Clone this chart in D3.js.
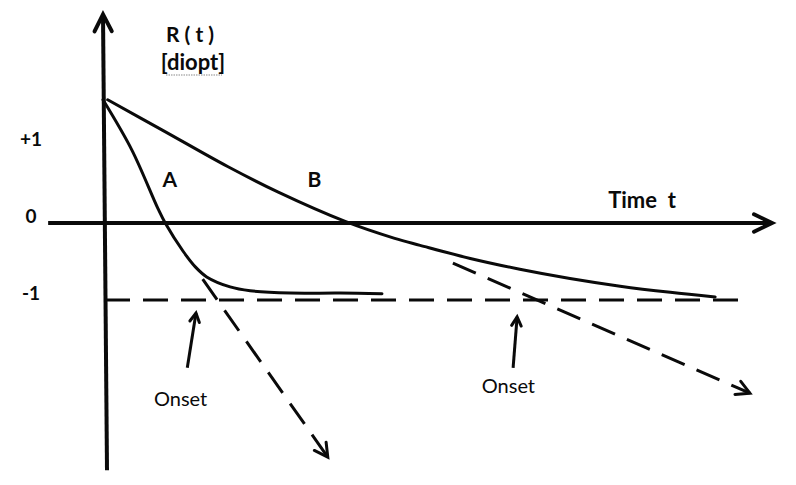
<!DOCTYPE html>
<html>
<head>
<meta charset="utf-8">
<script src="https://cdn.jsdelivr.net/npm/d3@7"></script>
<style>
    body { margin: 0; background: #fff; }
    svg { display: block; }
</style>
</head>
<body>
<div id="chart"></div>
<script>
/////////////////////////////////////////
//////////////// DATA ///////////////////
/////////////////////////////////////////

//time t (arbitrary units) and R(t) in diopt
const curveA = [
    [0.00, 1.60], [0.43, 0.95], [0.82, 0.19], [0.93, 0.00], [1.20, -0.37],
    [1.38, -0.57], [1.55, -0.70], [1.90, -0.83], [2.20, -0.88], [2.80, -0.91],
    [3.54, -0.91], [4.17, -0.92]
];
const curveB = [
    [0.07, 1.60], [0.88, 1.21], [1.87, 0.73], [2.62, 0.40], [3.62, 0.02],
    [4.36, -0.20], [4.74, -0.29], [5.49, -0.46], [6.23, -0.60], [6.98, -0.72],
    [7.73, -0.82], [8.48, -0.90], [9.15, -0.96]
];

//dashed lines: the -1 level and the two extrapolated tangents
const levelLine = [[0.03, -1], [9.63, -1]];
const tangentA = [[1.49, -0.73], [3.36, -3.04]];
const tangentB = [[5.23, -0.52], [9.67, -2.21]];

//onset arrows [from, to]
const onsetArrows = [
    [[1.26, -1.88], [1.39, -1.17]],
    [[6.13, -1.88], [6.19, -1.22]]
];
const onsetLabels = [[1.16, -2.28], [6.06, -2.12]];

const tickValues = [1, 0, -1];
const tickLabels = ["+1", "0", "-1"];

const curveNames = ["A", "B"];
const curveNamePos = [[1.00, 0.56], [3.16, 0.56]];

/////////////////////////////////////////
//////////// SIZES & SCALES /////////////
/////////////////////////////////////////

const WIDTH = 796;
const HEIGHT = 485;
const INK = "#0a0a0a";
const FONT = "Lato, 'Open Sans', sans-serif";

const x = d3.scaleLinear().domain([0, 10]).range([103, 772]);
const y = d3.scaleLinear().domain([-1, 0]).range([300, 223]);

const svg = d3.select("#chart").append("svg")
    .attr("width", WIDTH)
    .attr("height", HEIGHT);

const line = d3.line()
    .x(d => x(d[0]))
    .y(d => y(d[1]));

const smooth = d3.line()
    .x(d => x(d[0]))
    .y(d => y(d[1]))
    .curve(d3.curveCatmullRom.alpha(0.5));

//open V arrow head at the end of a segment
function arrowHead(g, from, to, len, spread, width) {
    const x0 = x(from[0]), y0 = y(from[1]);
    const x1 = x(to[0]), y1 = y(to[1]);
    const a = Math.atan2(y1 - y0, x1 - x0);
    const p1 = [x1 - len * Math.cos(a - spread), y1 - len * Math.sin(a - spread)];
    const p2 = [x1 - len * Math.cos(a + spread), y1 - len * Math.sin(a + spread)];
    g.append("path")
        .attr("d", `M${p1}L${x1},${y1}L${p2}`)
        .attr("fill", "none")
        .attr("stroke", INK)
        .attr("stroke-width", width)
        .attr("stroke-linecap", "round")
        .attr("stroke-linejoin", "miter");
}

/////////////////////////////////////////
//////////////// AXES ///////////////////
/////////////////////////////////////////

const axes = svg.append("g");

const yAxis = [[0.06, -3.21], [0, 2.71]]; //the drawn axis leans a little at the bottom
const xAxis = [[-0.82, 0], [10, 0]];

axes.append("path")
    .attr("d", line(yAxis))
    .attr("stroke", INK).attr("stroke-width", 4).attr("fill", "none");
arrowHead(axes, yAxis[0], yAxis[1], 19, 0.47, 4);

axes.append("path")
    .attr("d", line(xAxis))
    .attr("stroke", INK).attr("stroke-width", 4).attr("fill", "none");
arrowHead(axes, xAxis[0], xAxis[1], 20, 0.45, 4);

axes.selectAll("text.tick")
    .data(tickValues)
    .join("text")
        .attr("class", "tick")
        .attr("x", 31)
        .attr("y", d => y(d) - 7)
        .attr("dy", "0.35em")
        .attr("text-anchor", "middle")
        .attr("font-family", FONT)
        .attr("font-weight", "bold")
        .attr("font-size", "19px")
        .attr("fill", INK)
        .text((d, i) => tickLabels[i]);

//axis titles
axes.append("text")
    .attr("x", 190).attr("y", 35).attr("dy", "0.35em")
    .attr("text-anchor", "middle")
    .attr("font-family", FONT).attr("font-weight", "bold").attr("font-size", "21px")
    .attr("fill", INK)
    .text("R ( t )");
axes.append("text")
    .attr("x", 193).attr("y", 62).attr("dy", "0.35em")
    .attr("text-anchor", "middle")
    .attr("font-family", FONT).attr("font-weight", "bold").attr("font-size", "22px")
    .attr("fill", INK)
    .text("[diopt]");
axes.append("line") //spell-check squiggle under diopt
    .attr("x1", 166).attr("x2", 222).attr("y1", 75).attr("y2", 75)
    .attr("stroke", "#8a8a8a").attr("stroke-width", 1.2)
    .attr("stroke-dasharray", "1.5,1");

axes.append("text")
    .attr("x", 642).attr("y", 200).attr("dy", "0.35em")
    .attr("text-anchor", "middle")
    .attr("font-family", FONT).attr("font-weight", "bold").attr("font-size", "22px")
    .attr("fill", INK)
    .attr("xml:space", "preserve")
    .text("Time  t");

/////////////////////////////////////////
/////////////// CURVES //////////////////
/////////////////////////////////////////

const curves = svg.append("g");

curves.selectAll("path.curve")
    .data([curveA, curveB])
    .join("path")
        .attr("class", "curve")
        .attr("d", smooth)
        .attr("fill", "none")
        .attr("stroke", INK)
        .attr("stroke-width", 3)
        .attr("stroke-linecap", "round");

curves.selectAll("text.name")
    .data(curveNames)
    .join("text")
        .attr("class", "name")
        .attr("x", (d, i) => x(curveNamePos[i][0]))
        .attr("y", (d, i) => y(curveNamePos[i][1]))
        .attr("dy", "0.35em")
        .attr("text-anchor", "middle")
        .attr("font-family", FONT)
        .attr("font-weight", "bold")
        .attr("font-size", "21px")
        .attr("fill", INK)
        .text(d => d);

//dashed level + tangents
const dashed = svg.append("g");

dashed.selectAll("path")
    .data([levelLine, tangentA, tangentB])
    .join("path")
        .attr("d", line)
        .attr("fill", "none")
        .attr("stroke", INK)
        .attr("stroke-width", 3)
        .attr("stroke-dasharray", "25,13");

arrowHead(dashed, tangentA[0], tangentA[1], 15, 0.5, 3);
arrowHead(dashed, tangentB[0], tangentB[1], 15, 0.5, 3);

/////////////////////////////////////////
//////////////// ONSET //////////////////
/////////////////////////////////////////

const onset = svg.append("g");

onsetArrows.forEach(([from, to]) => {
    onset.append("path")
        .attr("d", line([from, to]))
        .attr("stroke", INK).attr("stroke-width", 3).attr("fill", "none");
    arrowHead(onset, from, to, 10, 0.5, 3);
});

onset.selectAll("text")
    .data(onsetLabels)
    .join("text")
        .attr("x", d => x(d[0]))
        .attr("y", d => y(d[1]))
        .attr("dy", "0.35em")
        .attr("text-anchor", "middle")
        .attr("font-family", FONT)
        .attr("font-size", "20px")
        .attr("fill", INK)
        .text("Onset");
</script>
</body>
</html>
